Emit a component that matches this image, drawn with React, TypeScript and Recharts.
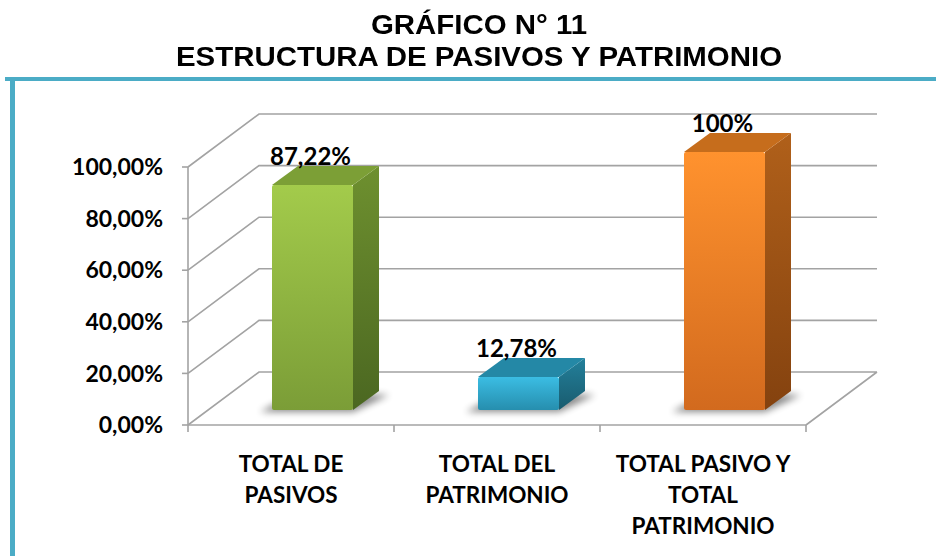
import React from "react";
import { BarChart, Bar, XAxis, YAxis, CartesianGrid, LabelList } from "recharts";

// values
const categories = ["TOTAL DE\nPASIVOS", "TOTAL DEL\nPATRIMONIO", "TOTAL PASIVO Y\nTOTAL\nPATRIMONIO"];
const values = [0.8722, 0.1278, 1];
const valueLabels = ["87,22%", "12,78%", "100%"];
const yTicks = [0, 0.2, 0.4, 0.6, 0.8, 1];

// face colours per bar: front top/bottom, side top/bottom, top face
const palette = [
  { f1: "#a3cb4b", f2: "#7b9d37", s1: "#6e902f", s2: "#4b6721", t: "#7c9f36" },
  { f1: "#3bbde3", f2: "#268eae", s1: "#23809b", s2: "#195b6e", t: "#2488a6" },
  { f1: "#ff922e", f2: "#d26a1e", s1: "#b0601a", s2: "#84420f", t: "#c66d1c" },
];

const data = categories.map((name, i) => ({ name, value: values[i], label: valueLabels[i] }));

// oblique projection used by the 3D wall / floor
const WALL_DX = 71;
const WALL_DY = -53;
// bars sit a bit inside the floor
const BAR_DX = 21;
const BAR_DY = -15;
// bar depth
const DEPTH_X = 26;
const DEPTH_Y = -19;

const GRID = "#a3a3a3";
const W = 936;
const H = 556;
const MARGIN = { top: 167, right: 130, bottom: 31, left: 78 };
const PLOT_BOTTOM = H - MARGIN.bottom - 100;
const FONT = "Lato, 'Open Sans', sans-serif";

const fmtPct = (v: number) => (v * 100).toFixed(2).replace(".", ",") + "%";

function WallLine(props: any) {
  const { x1, y1, x2, y2 } = props;
  let d = `M${x1},${y1} L${x1 + WALL_DX},${y1 + WALL_DY} L${x2 + WALL_DX},${y2 + WALL_DY}`;
  if (Math.abs(y1 - PLOT_BOTTOM) < 1) {
    d += ` M${x2},${y2} L${x2 + WALL_DX},${y2 + WALL_DY}`;
  }
  return <path d={d} stroke={GRID} strokeWidth={1.6} fill="none" />;
}

function BoundaryTick(props: any) {
  const { x1, y2 } = props;
  return <line x1={x1} y1={y2} x2={x1} y2={y2 + 7} stroke={GRID} strokeWidth={1.6} />;
}

function Bar3D(props: any) {
  const { x, y, width, height, index } = props;
  const c = palette[index];
  const fx = x + BAR_DX;
  const fy = y + BAR_DY;
  const right = fx + width;
  const bottom = fy + height;
  const fid = `front-${index}`;
  const sid = `side-${index}`;
  const shid = `shadow-${index}`;
  return (
    <g>
      <defs>
        <linearGradient id={fid} x1="0" y1="0" x2="0" y2="1">
          <stop offset="0%" stopColor={c.f1} />
          <stop offset="100%" stopColor={c.f2} />
        </linearGradient>
        <linearGradient id={sid} x1="0" y1="0" x2="0" y2="1">
          <stop offset="0%" stopColor={c.s1} />
          <stop offset="100%" stopColor={c.s2} />
        </linearGradient>
        <filter id={shid} x="-30%" y="-100%" width="160%" height="300%">
          <feGaussianBlur stdDeviation="3.5" />
        </filter>
      </defs>
      <polygon
        points={`${fx - 12},${bottom + 2} ${right},${bottom + 2} ${right + DEPTH_X + 10},${bottom + DEPTH_Y + 4} ${fx + DEPTH_X},${bottom + DEPTH_Y}`}
        fill="#000"
        opacity={0.45}
        filter={`url(#${shid})`}
      />
      <polygon
        points={`${right},${fy} ${right + DEPTH_X},${fy + DEPTH_Y} ${right + DEPTH_X},${bottom + DEPTH_Y} ${right},${bottom}`}
        fill={`url(#${sid})`}
      />
      <polygon
        points={`${fx},${fy} ${fx + DEPTH_X},${fy + DEPTH_Y} ${right + DEPTH_X},${fy + DEPTH_Y} ${right},${fy}`}
        fill={c.t}
      />
      <rect x={fx} y={fy} width={width} height={height} rx={2} fill={`url(#${fid})`} />
    </g>
  );
}

function ValueLabel(props: any) {
  const { x, y, width, value } = props;
  return (
    <text
      x={x + BAR_DX + width / 2 - 2}
      y={y + BAR_DY + DEPTH_Y - 1}
      textAnchor="middle"
      fontFamily={FONT}
      fontWeight={700}
      fontSize={24}
      fill="#000"
    >
      {value}
    </text>
  );
}

function CategoryTick(props: any) {
  const { x, y, payload } = props;
  const lines = String(payload.value).split("\n");
  return (
    <text x={x} y={y} textAnchor="middle" fontFamily={FONT} fontWeight={700} fontSize={22.5} fill="#000">
      {lines.map((l, i) => (
        <tspan key={i} x={x} dy={i === 0 ? 47 : 31}>
          {l}
        </tspan>
      ))}
    </text>
  );
}

export default function App() {
  return (
    <div style={{ position: "absolute", left: 0, top: 0, width: W, height: H, background: "#fff", overflow: "hidden" }}>
      <div
        style={{
          position: "absolute",
          left: 11,
          top: 9,
          width: W,
          textAlign: "center",
          fontFamily: "'Liberation Sans', Arial, sans-serif",
          fontWeight: 700,
          fontSize: 27,
          lineHeight: "32px",
          color: "#000",
          transform: "scaleX(1.09)",
        }}
      >
        <div>GRÁFICO N° 11</div>
        <div>ESTRUCTURA DE PASIVOS Y PATRIMONIO</div>
      </div>
      <div style={{ position: "absolute", left: 5, top: 77, width: W - 5, height: 4, background: "#4bacc6" }} />
      <div style={{ position: "absolute", left: 10, top: 77, width: 5, height: H - 77, background: "#4bacc6" }} />
      <div style={{ position: "absolute", left: 0, top: 0 }}>
        <BarChart width={W} height={H} data={data} margin={MARGIN}>
          <CartesianGrid
            horizontal={WallLine}
            vertical={BoundaryTick}
            verticalCoordinatesGenerator={({ offset }: any) =>
              categories.map((_, i) => offset.left + (i * offset.width) / categories.length).concat(offset.left + offset.width)
            }
          />
          <XAxis
            dataKey="name"
            height={100}
            interval={0}
            tickLine={false}
            tickSize={0}
            tickMargin={0}
            axisLine={{ stroke: GRID, strokeWidth: 1.6 }}
            tick={<CategoryTick />}
          />
          <YAxis
            width={110}
            domain={[0, 1]}
            ticks={yTicks}
            tickFormatter={fmtPct}
            tickSize={6}
            tickMargin={19}
            axisLine={{ stroke: GRID, strokeWidth: 1.6 }}
            tickLine={{ stroke: GRID, strokeWidth: 1.6 }}
            tick={{ fill: "#000", fontSize: 23, fontWeight: 700, fontFamily: FONT }}
          />
          <Bar dataKey="value" barSize={81} shape={<Bar3D />} isAnimationActive={false}>
            <LabelList dataKey="label" content={<ValueLabel />} />
          </Bar>
        </BarChart>
      </div>
    </div>
  );
}
